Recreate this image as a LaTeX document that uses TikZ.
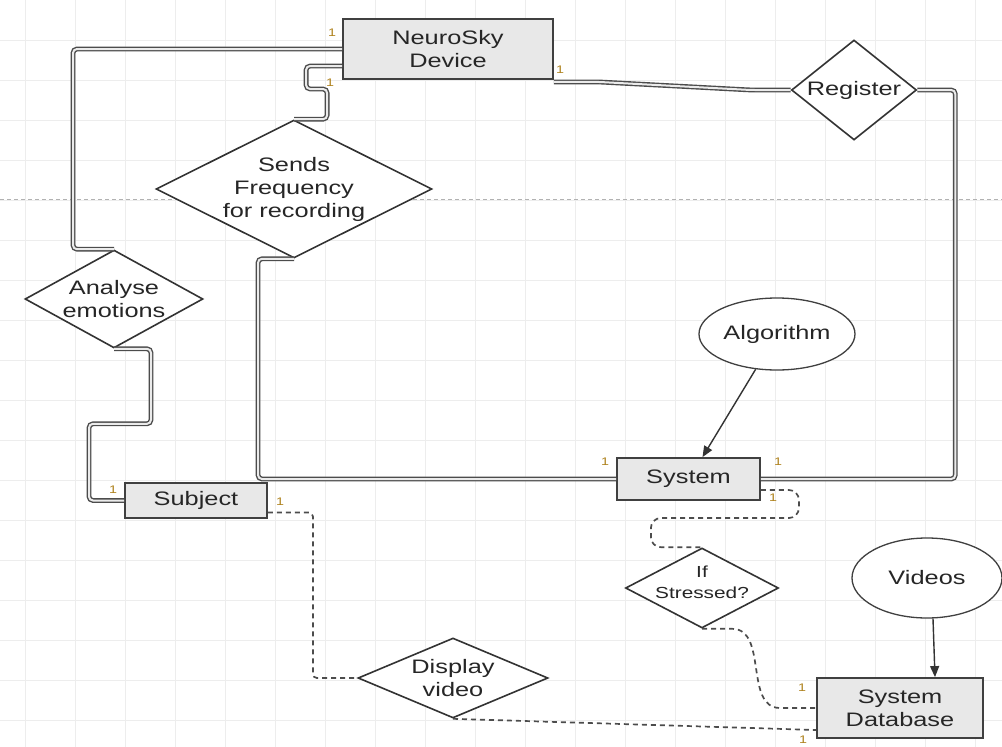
\documentclass[tikz,border=0pt]{standalone}
\usepackage{fontspec}
\setmainfont{Liberation Sans}[FakeStretch=1.3]
\usetikzlibrary{shapes.geometric,arrows.meta,calc}
\begin{document}
\begin{tikzpicture}[x=1pt,y=-1pt,
  every node/.style={text=black!85, font=\fontsize{19.5}{23}\selectfont, align=center},
  entity/.style={draw=black!75, fill=black!9, line width=1.8pt, inner sep=0pt},
  relation/.style={draw=black!80, fill=white, shape=diamond, line width=1.6pt, inner sep=0pt},
  attr/.style={draw=black!75, fill=white, ellipse, line width=1.3pt, inner sep=0pt},
  dbl/.style={draw=black!70, double=black!8, double distance=2pt, line width=1.4pt, rounded corners=4pt},
  dsh/.style={draw=black!70, line width=1.7pt, dash pattern=on 5pt off 4pt},
  card/.style={text={rgb,255:red,175;green,130;blue,30}, font=\fontsize{11}{13}\selectfont, inner sep=0pt},
  arr/.style={draw=black!80, line width=1.4pt, -{Triangle[length=11pt,width=9pt]}}
]
% background and grid
\fill[white] (0,0) rectangle (1002,747);
\useasboundingbox (0,0) rectangle (1002,747);
\foreach \x in {25,75,...,975} \draw[black!7, line width=0.6pt] (\x,0) -- (\x,747);
\foreach \y in {40,80,...,720} \draw[black!7, line width=0.6pt] (0,\y) -- (1002,\y);
\draw[black!30, line width=0.8pt, dash pattern=on 4pt off 3pt] (0,199) -- (1002,199);

% entities
\node[entity, minimum width=210pt, minimum height=60pt] (neuro) at (448,49) {NeuroSky\\Device};
\node[entity, minimum width=142pt, minimum height=35pt] (subject) at (196,500.5) {Subject};
\node[entity, minimum width=143pt, minimum height=42pt] (system) at (688.5,479) {System};
\node[entity, minimum width=166pt, minimum height=60pt] (db) at (900,708) {System\\Database};

% attributes
\node[attr, minimum width=156pt, minimum height=72pt] (algo) at (777,334) {Algorithm};
\node[attr, minimum width=150pt, minimum height=80pt] (videos) at (927,578) {Videos};

% relations
\node[relation, minimum width=125pt, minimum height=100pt, label={[name=registerT]center:Register}] (register) at (854,90) {};
\node[relation, minimum width=276pt, minimum height=138pt, label={[name=sendsT]center:Sends\\Frequency\\for recording}] (sends) at (294,189) {};
\node[relation, minimum width=178pt, minimum height=98pt, label={[name=analyseT]center:Analyse\\emotions}] (analyse) at (114,299) {};
\node[relation, minimum width=153pt, minimum height=80pt, label={[name=stressedT, font=\fontsize{16}{21}\selectfont, yshift=6pt]center:If\\Stressed?}] (stressed) at (702,588) {};
\node[relation, minimum width=190pt, minimum height=80pt, label={[name=displayT]center:Display\\video}] (display) at (453,678) {};

% double connectors
\draw[dbl] (neuro.west) -| ($(analyse.north)+(-41,0)$) -- (analyse.north);
\draw[dbl] ([yshift=-17pt]neuro.west) -- ++(-36,0) -- ++(0,23) -- ++(21,0) |- (sends.north);
\draw[dbl] ([yshift=-2pt]neuro.south east) -- ++(44,0) -- ($(register.west)+(-40,0)$) -- (register.west);
\draw[dbl] (register.east) -- ++(38,0) |- (system.east);
\draw[dbl] (sends.south) -- ++(-36,0) |- (system.west);
\draw[dbl] (analyse.south) -- ++(37,0) -- ++(0,75) -- ++(-62,0) |- (subject.west);

% dashed connectors
\draw[dsh, rounded corners=4pt] ([yshift=-12pt]subject.east) -- ++(45,0) |- (display.west);
\draw[dsh] (display.south) -- ([yshift=-22pt]db.west);
\draw[dsh, rounded corners=10pt] ([yshift=-11pt]system.east) -- ++(38,0) -- ++(0,28) -- ++(-148,0) |- (stressed.north);
\draw[dsh] (stressed.south) -- ++(30,0) to[out=0,in=180] ($(db.west)+(-36,0)$) -- (db.west);

% arrows
\draw[arr] (algo) -- ([xshift=14pt]system.north);
\draw[arr] ([xshift=6pt]videos.south) -- ([xshift=35pt]db.north);

% cardinalities
\node[card] (c1) at (332,33) {1};
\node[card] (c2) at (330,83) {1};
\node[card] (c3) at (560,70) {1};
\node[card] (c4) at (778,462) {1};
\node[card] (c5) at (605,462) {1};
\node[card] (c6) at (113,490) {1};
\node[card] (c7) at (280,502) {1};
\node[card] (c8) at (773,498) {1};
\node[card] (c9) at (802,688) {1};
\node[card] (c10) at (803,740) {1};
\end{tikzpicture}
\end{document}
